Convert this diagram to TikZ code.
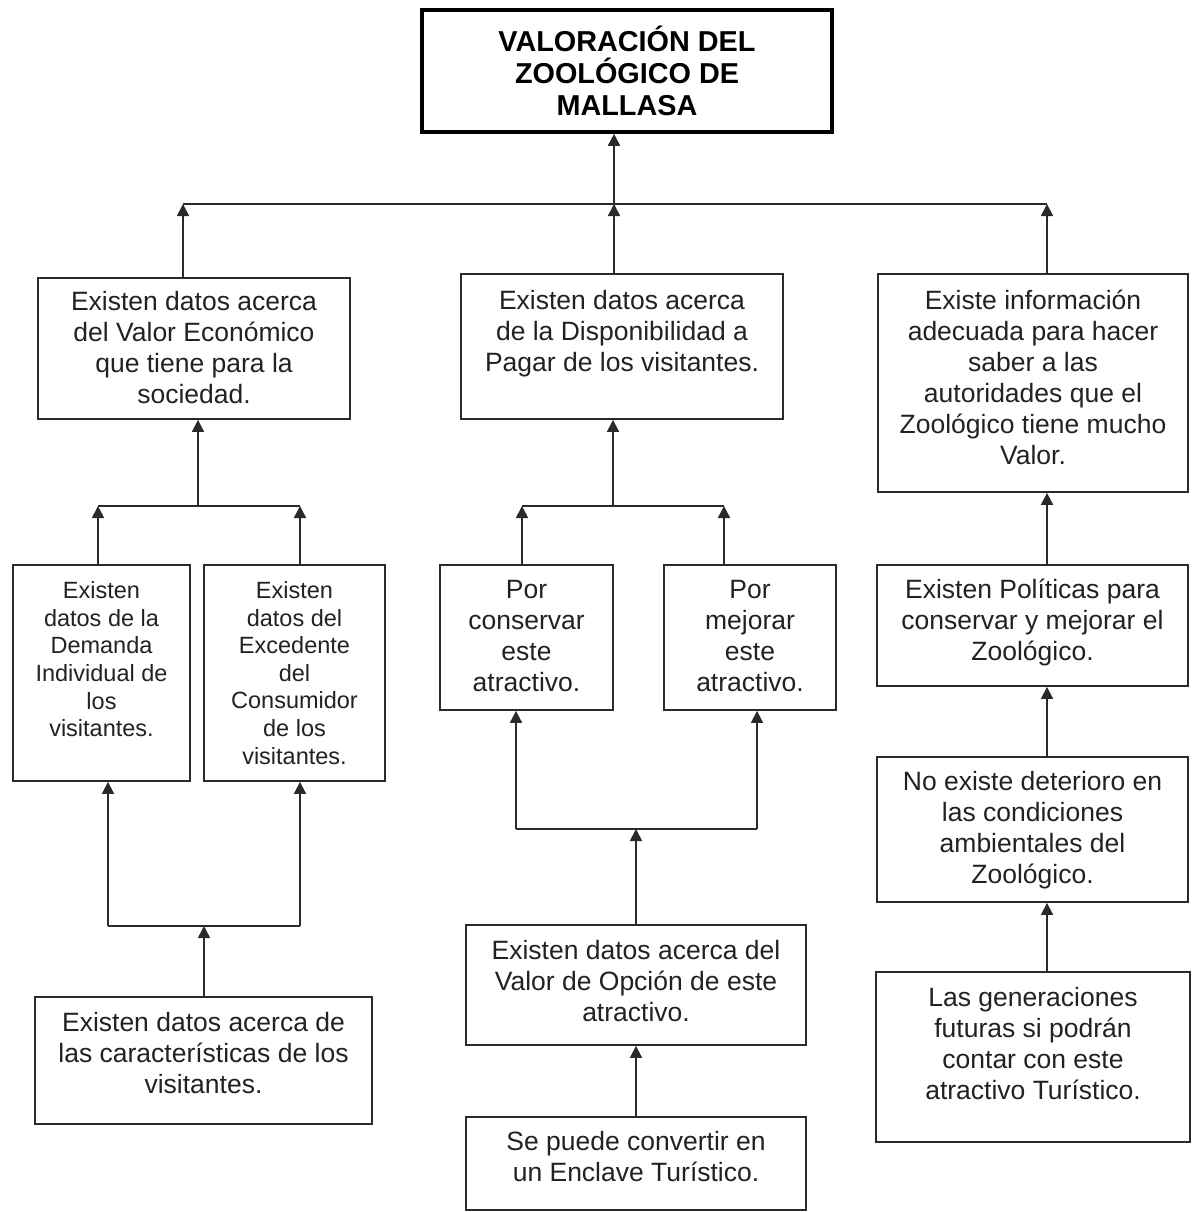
\documentclass[tikz,border=0pt]{standalone}
\usepackage{fontspec}
\setmainfont{Liberation Sans}
\usetikzlibrary{arrows.meta}
\definecolor{ink}{HTML}{222222}
\definecolor{edge}{HTML}{2A2A2A}
\tikzset{
  box/.style={draw=edge, line width=1.8pt, inner sep=0pt, fill=white},
  titlebox/.style={draw=black, line width=3.6pt, inner sep=0pt},
  txt/.style={text=ink, align=center, inner sep=0pt, anchor=base,
    font=\fontsize{26.5}{31}\selectfont},
  smalltxt/.style={txt, font=\fontsize{23.5}{27.6}\selectfont},
  titletxt/.style={txt, text=black, font=\bfseries\fontsize{28.8}{32}\selectfont},
  conn/.style={draw=edge, line width=1.7pt},
  arr/.style={conn, -{Triangle[width=12pt,length=12pt]}}
}
\begin{document}
\begin{tikzpicture}[x=1pt,y=-1pt]
\useasboundingbox[fill=white] (0,0) rectangle (1191,1212);

% boxes
\node[titlebox, minimum width=410pt, minimum height=122pt] (title) at (627,71) {};
\node[box, minimum width=312pt, minimum height=141pt] (a1) at (194,348.5) {};
\node[box, minimum width=322pt, minimum height=145pt] (b1) at (622,346.5) {};
\node[box, minimum width=310pt, minimum height=218pt] (c1) at (1033,383) {};
\node[box, minimum width=177pt, minimum height=216pt] (a2) at (101.5,673) {};
\node[box, minimum width=181pt, minimum height=216pt] (a3) at (294.5,673) {};
\node[box, minimum width=173pt, minimum height=145pt] (b2) at (526.5,637.5) {};
\node[box, minimum width=172pt, minimum height=145pt] (b3) at (750,637.5) {};
\node[box, minimum width=311pt, minimum height=121pt] (c2) at (1032.5,625.5) {};
\node[box, minimum width=337pt, minimum height=127pt] (a4) at (203.5,1060.5) {};
\node[box, minimum width=340pt, minimum height=120pt] (b4) at (636,985) {};
\node[box, minimum width=340pt, minimum height=93pt] (b5) at (636,1163.5) {};
\node[box, minimum width=311pt, minimum height=145pt] (c3) at (1032.5,829.5) {};
\node[box, minimum width=314pt, minimum height=170pt] (c4) at (1033,1057) {};

% texts (anchor=base is the baseline of the last line)
\node[titletxt] (titlet) at ([yshift=-107pt]title.north) {VALORACIÓN DEL\\ZOOLÓGICO DE\\MALLASA};
\node[txt] (a1t) at ([yshift=-126.5pt]a1.north) {Existen datos acerca\\del Valor Económico\\que tiene para la\\sociedad.};
\node[txt] (b1t) at ([yshift=-98.5pt]b1.north) {Existen datos acerca\\de la Disponibilidad a\\Pagar de los visitantes.};
\node[txt] (c1t) at ([yshift=-191.5pt]c1.north) {Existe información\\adecuada para hacer\\saber a las\\autoridades que el\\Zoológico tiene mucho\\Valor.};
\node[smalltxt] (a2t) at ([yshift=-172.5pt]a2.north) {Existen\\datos de la\\Demanda\\Individual de\\los\\visitantes.};
\node[smalltxt] (a3t) at ([yshift=-200pt]a3.north) {Existen\\datos del\\Excedente\\del\\Consumidor\\de los\\visitantes.};
\node[txt] (b2t) at ([yshift=-127.5pt]b2.north) {Por\\conservar\\este\\atractivo.};
\node[txt] (b3t) at ([yshift=-127.5pt]b3.north) {Por\\mejorar\\este\\atractivo.};
\node[txt] (c2t) at ([yshift=-96.5pt]c2.north) {Existen Políticas para\\conservar y mejorar el\\Zoológico.};
\node[txt] (a4t) at ([yshift=-97.5pt]a4.north) {Existen datos acerca de\\las características de los\\visitantes.};
\node[txt] (b4t) at ([yshift=-97.5pt]b4.north) {Existen datos acerca del\\Valor de Opción de este\\atractivo.};
\node[txt] (b5t) at ([yshift=-65.5pt]b5.north) {Se puede convertir en\\un Enclave Turístico.};
\node[txt] (c3t) at ([yshift=-127.5pt]c3.north) {No existe deterioro en\\las condiciones\\ambientales del\\Zoológico.};
\node[txt] (c4t) at ([yshift=-128.5pt]c4.north) {Las generaciones\\futuras si podrán\\contar con este\\atractivo Turístico.};

% junction coordinates
\coordinate (topL) at (183,204);
\coordinate (topM) at (614,204);
\coordinate (topR) at (1047,204);
\coordinate (aL) at (98,506);
\coordinate (aM) at (198,506);
\coordinate (aR) at (300,506);
\coordinate (bL) at (522,506);
\coordinate (bM) at (613,506);
\coordinate (bR) at (724,506);
\coordinate (dL) at (108,926);
\coordinate (dM) at (204,926);
\coordinate (dR) at (300,926);
\coordinate (eL) at (516,829);
\coordinate (eM) at (636,829);
\coordinate (eR) at (757,829);

% top level
\draw[conn] (topL) -- (topR);
\draw[arr] (topM) -- (title.south -| topM);
\draw[arr] (a1.north -| topL) -- (topL);
\draw[arr] (b1.north -| topM) -- (topM);
\draw[arr] (c1.north -| topR) -- (topR);

% left column
\draw[conn] (aL) -- (aR);
\draw[arr] (aM) -- (a1.south -| aM);
\draw[arr] (a2.north -| aL) -- (aL);
\draw[arr] (a3.north -| aR) -- (aR);
\draw[conn] (dL) -- (dR);
\draw[arr] (dL) -- (a2.south -| dL);
\draw[arr] (dR) -- (a3.south -| dR);
\draw[arr] (a4.north -| dM) -- (dM);

% middle column
\draw[conn] (bL) -- (bR);
\draw[arr] (bM) -- (b1.south -| bM);
\draw[arr] (b2.north -| bL) -- (bL);
\draw[arr] (b3.north -| bR) -- (bR);
\draw[conn] (eL) -- (eR);
\draw[arr] (eL) -- (b2.south -| eL);
\draw[arr] (eR) -- (b3.south -| eR);
\draw[arr] (b4.north -| eM) -- (eM);
\draw[arr] (b5.north -| eM) -- (b4.south -| eM);

% right column
\draw[arr] (c2.north -| topR) -- (c1.south -| topR);
\draw[arr] (c3.north -| topR) -- (c2.south -| topR);
\draw[arr] (c4.north -| topR) -- (c3.south -| topR);
\end{tikzpicture}
\end{document}
